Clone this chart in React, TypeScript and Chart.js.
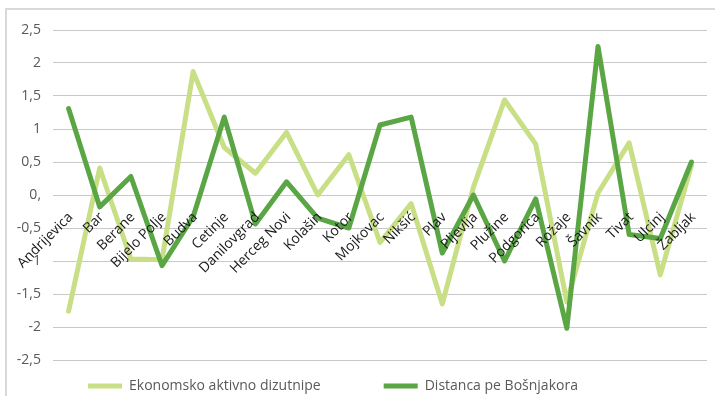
import React, { useEffect, useRef } from 'react';
import { Chart, registerables } from 'chart.js';

Chart.register(...registerables);

const categories = [
  'Andrijevica', 'Bar', 'Berane', 'Bijelo Polje', 'Budva', 'Cetinje', 'Danilovgrad',
  'Herceg Novi', 'Kolašin', 'Kotor', 'Mojkovac', 'Nikšić', 'Plav', 'Pljevlja',
  'Plužine', 'Podgorica', 'Rožaje', 'Šavnik', 'Tivat', 'Ulcinj', 'Žabljak',
];

const ekonomskoAktivno = [
  -1.76, 0.41, -0.97, -0.98, 1.87, 0.72, 0.33, 0.95, 0.0, 0.61, -0.72,
  -0.13, -1.65, 0.12, 1.44, 0.77, -1.62, 0.03, 0.79, -1.21, 0.45,
];

const distancaBosnjakora = [
  1.31, -0.18, 0.28, -1.07, -0.33, 1.18, -0.44, 0.2, -0.35, -0.5, 1.06,
  1.18, -0.88, 0.0, -1.0, -0.06, -2.02, 2.25, -0.6, -0.66, 0.5,
];

const yTickLabels = ['-2,5', '-2', '-1,5', '-1', '-0,5', '0,', '0,5', '1', '1,5', '2', '2,5'];

const seriesNames = ['Ekonomsko aktivno dizutnipe', 'Distanca pe Bošnjakora'];

const FONT = "'Open Sans', 'DejaVu Sans', sans-serif";

export default function App() {
  const canvasRef = useRef<HTMLCanvasElement>(null);

  useEffect(() => {
    document.body.style.margin = '0';
    const canvas = canvasRef.current;
    if (!canvas) return;

    const legendPlace = {
      id: 'legendPlace',
      beforeDraw(chart: any) {
        const lg = chart.legend;
        if (!lg) return;
        const w = lg.right - lg.left;
        const h = lg.bottom - lg.top;
        lg.left = 77;
        lg.right = 77 + w;
        lg.top = 368;
        lg.bottom = 368 + h;
      },
    };

    const chart = new Chart(canvas, {
      type: 'line',
      data: {
        labels: categories,
        datasets: [
          {
            label: seriesNames[0],
            data: ekonomskoAktivno,
            borderColor: '#C8DF86',
            backgroundColor: '#C8DF86',
            borderWidth: 5,
            pointRadius: 0,
            tension: 0,
            borderJoinStyle: 'round',
            borderCapStyle: 'round',
            order: 1,
          },
          {
            label: seriesNames[1],
            data: distancaBosnjakora,
            borderColor: '#5AA645',
            backgroundColor: '#5AA645',
            borderWidth: 5,
            pointRadius: 0,
            tension: 0,
            borderJoinStyle: 'round',
            borderCapStyle: 'round',
            order: 0,
          },
        ],
      },
      options: {
        animation: false,
        responsive: false,
        events: [],
        layout: { padding: { top: 30, right: 8, bottom: 1, left: 0 } },
        scales: {
          x: {
            type: 'category',
            offset: true,
            position: { y: 0 },
            grid: { display: false },
            border: { display: false },
            ticks: {
              z: 1,
              autoSkip: false,
              minRotation: 45,
              maxRotation: 45,
              padding: 6,
              labelOffset: 2,
              color: '#1a1a1a',
              font: { family: FONT, size: 14 },
            },
            afterFit: (scale: any) => {
              scale.height = 0;
            },
          },
          y: {
            min: -2.5,
            max: 2.5,
            grid: { color: '#C9C9C9', lineWidth: 1, drawTicks: false },
            border: { display: false },
            ticks: {
              stepSize: 0.5,
              padding: 12,
              color: '#595959',
              font: { family: FONT, size: 14 },
              callback: (_v: any, i: number) => yTickLabels[i],
            },
            afterFit: (scale: any) => {
              scale.width = 53;
            },
          },
        },
        plugins: {
          tooltip: { enabled: false },
          legend: {
            position: 'bottom',
            align: 'start',
            onClick: () => {},
            labels: {
              usePointStyle: true,
              pointStyle: 'line',
              pointStyleWidth: 34,
              padding: 11,
              color: '#595959',
              font: { family: FONT, size: 14 },
              generateLabels: (ch: any) => {
                const base = Chart.defaults.plugins.legend.labels.generateLabels(ch);
                base.sort((a: any, b: any) => a.datasetIndex - b.datasetIndex);
                const spacer = {
                  text: '',
                  fillStyle: 'rgba(0,0,0,0)',
                  strokeStyle: 'rgba(0,0,0,0)',
                  lineWidth: 0,
                  pointStyle: 'line',
                  hidden: false,
                  datasetIndex: -1,
                };
                return [base[0], spacer, base[1]];
              },
            },
          },
        },
      },
      plugins: [legendPlace],
    } as any);

    return () => chart.destroy();
  }, []);

  return (
    <div style={{ position: 'relative', width: 715, height: 396, overflow: 'hidden', background: '#fff' }}>
      <div
        style={{
          position: 'absolute',
          left: 5,
          top: 8,
          width: 800,
          height: 500,
          border: '2px solid #D9D9D9',
          boxSizing: 'border-box',
        }}
      />
      <canvas ref={canvasRef} width={715} height={396} style={{ position: 'absolute', left: 0, top: 0 }} />
    </div>
  );
}
